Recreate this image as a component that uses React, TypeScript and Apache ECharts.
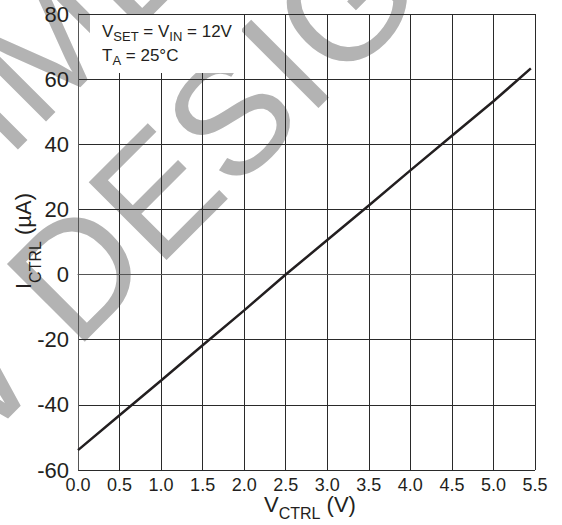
import React, { useEffect, useRef } from 'react';
import * as echarts from 'echarts';

const vCtrl = [0, 0.5, 1, 1.5, 2, 2.5, 3, 3.5, 4, 4.5, 5, 5.45];
const iCtrl = [-53.9, -43.2, -32.5, -21.7, -11, 0, 10.6, 21.2, 32, 42.6, 53.2, 63.3];
const xTickLabels = ['0.0', '0.5', '1.0', '1.5', '2.0', '2.5', '3.0', '3.5', '4.0', '4.5', '5.0', '5.5'];
const yTickLabels = ['-60', '-40', '-20', '0', '20', '40', '60', '80'];
const watermarkLines = ['NOT RECOMMENDED', 'FOR NEW DESIGNS'];

const FONT = 'Liberation Sans, Arial, Helvetica, sans-serif';

export default function App() {
  const ref = useRef<HTMLDivElement>(null);
  useEffect(() => {
    if (!ref.current) return;
    const chart = echarts.init(ref.current, undefined, { renderer: 'svg' });
    const data = vCtrl.map((x, i) => [x, iCtrl[i]]);
    const xMin = parseFloat(xTickLabels[0]);
    const xMax = parseFloat(xTickLabels[xTickLabels.length - 1]);
    const yMin = parseFloat(yTickLabels[0]);
    const yMax = parseFloat(yTickLabels[yTickLabels.length - 1]);
    const wmStyle = { font: `160px ${FONT}`, fill: '#b3b3b3', align: 'center', verticalAlign: 'middle' };
    const richN = (size: number, pad: number) => ({ fontSize: size, fontFamily: FONT, fill: '#231f20', lineHeight: size, verticalAlign: 'bottom', padding: [0, 0, pad, 0] });
    const richS = (size: number) => ({ fontSize: size, fontFamily: FONT, fill: '#231f20', lineHeight: size, verticalAlign: 'bottom' });
    chart.setOption({
      animation: false,
      backgroundColor: '#ffffff',
      grid: { left: 78, right: 27, top: 14, bottom: 55, containLabel: false },
      xAxis: {
        type: 'value',
        min: xMin,
        max: xMax,
        interval: 0.5,
        axisLine: { show: true, lineStyle: { color: '#555', width: 1 } },
        axisTick: { show: false },
        splitLine: { show: true, lineStyle: { color: '#2a2a2a', width: 1 } },
        axisLabel: {
          color: '#231f20',
          fontSize: 18,
          fontFamily: FONT,
          margin: 6,
          formatter: (v: number) => xTickLabels[Math.round((v - xMin) / 0.5)] ?? v.toFixed(1),
        },
      },
      yAxis: {
        type: 'value',
        min: yMin,
        max: yMax,
        interval: 20,
        axisLine: { show: true, lineStyle: { color: '#555', width: 1 } },
        axisTick: { show: false },
        splitLine: { show: true, lineStyle: { color: '#2a2a2a', width: 1 } },
        axisLabel: {
          color: '#231f20',
          fontSize: 22,
          fontFamily: FONT,
          margin: 9,
          formatter: (v: number) => yTickLabels[Math.round((v - yMin) / 20)] ?? String(v),
        },
      },
      graphic: [
        {
          type: 'text',
          x: 8,
          y: 340,
          rotation: Math.PI / 4,
          z: -5,
          silent: true,
          style: { ...wmStyle, text: watermarkLines[1] },
        },
        {
          type: 'text',
          x: -102,
          y: 191,
          rotation: Math.PI / 4,
          z: -5,
          silent: true,
          style: { ...wmStyle, text: watermarkLines[0] },
        },
        {
          type: 'rect',
          z: 10,
          shape: { x: 90, y: 15, width: 152, height: 58 },
          style: { fill: '#ffffff' },
        },
        {
          type: 'text',
          z: 11,
          x: 102,
          y: 26,
          style: {
            text: '{n|V}{s|SET}{n| = V}{s|IN}{n| = 12V}',
            rich: { n: richN(17, 3), s: richS(13) },
          },
        },
        {
          type: 'text',
          z: 11,
          x: 102,
          y: 50,
          style: {
            text: '{n|T}{s|A}{n| = 25°C}',
            rich: { n: richN(17, 3), s: richS(13) },
          },
        },
        {
          type: 'text',
          z: 11,
          x: 310,
          y: 499,
          style: {
            text: '{n|V}{s|CTRL}{n| (V)}',
            align: 'center',
            rich: { n: richN(22, 6), s: richS(16) },
          },
        },
        {
          type: 'text',
          z: 11,
          x: 21,
          y: 241,
          rotation: Math.PI / 2,
          style: {
            text: '{n|I}{s|CTRL}{n| (µA)}',
            align: 'center',
            rich: { n: richN(22, 9), s: richS(16) },
          },
        },
      ],
      series: [
        {
          type: 'line',
          data,
          showSymbol: false,
          symbol: 'none',
          z: 5,
          lineStyle: { color: '#231f20', width: 2.5 },
        },
      ],
    });
    return () => chart.dispose();
  }, []);
  return <div ref={ref} style={{ position: 'fixed', left: 0, top: 0, width: 562, height: 525 }} />;
}
